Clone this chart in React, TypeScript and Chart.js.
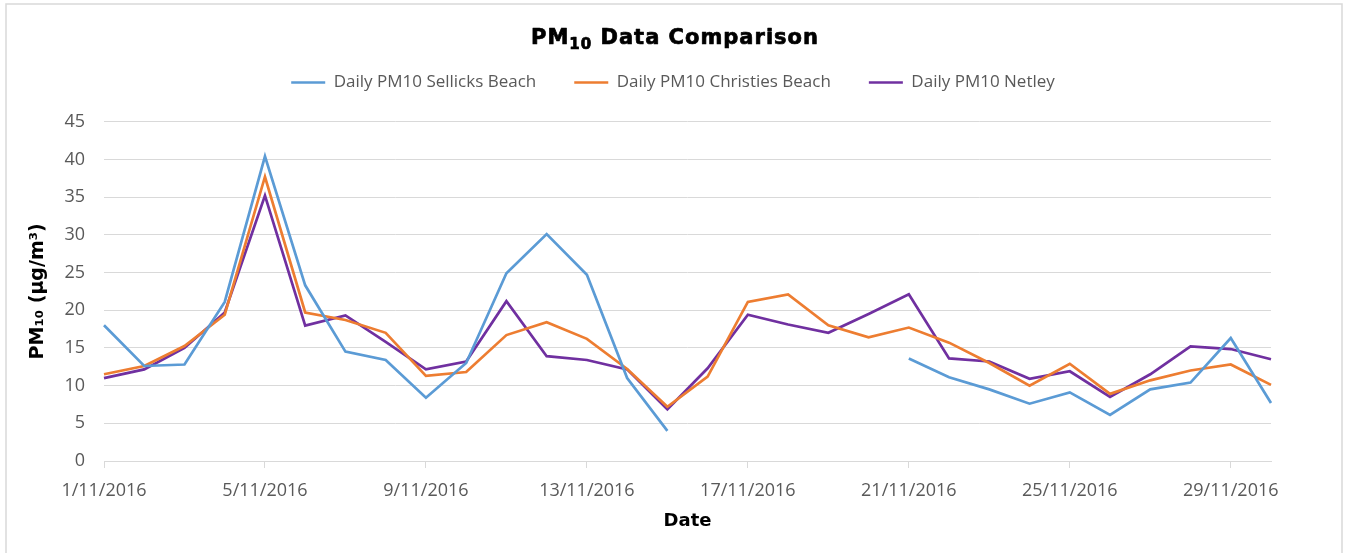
import { useEffect, useRef } from 'react';
import { Chart, registerables } from 'chart.js';

Chart.register(...registerables);

const dates = [
  '1/11/2016', '2/11/2016', '3/11/2016', '4/11/2016', '5/11/2016', '6/11/2016',
  '7/11/2016', '8/11/2016', '9/11/2016', '10/11/2016', '11/11/2016', '12/11/2016',
  '13/11/2016', '14/11/2016', '15/11/2016', '16/11/2016', '17/11/2016', '18/11/2016',
  '19/11/2016', '20/11/2016', '21/11/2016', '22/11/2016', '23/11/2016', '24/11/2016',
  '25/11/2016', '26/11/2016', '27/11/2016', '28/11/2016', '29/11/2016', '30/11/2016',
];

const sellicks: (number | null)[] = [
  18.0, 12.6, 12.8, 21.1, 40.4, 23.3, 14.5, 13.4, 8.4, 13.0,
  24.9, 30.1, 24.7, 11.0, 4.0, null, null, null, null, null,
  13.6, 11.1, 9.5, 7.6, 9.1, 6.1, 9.5, 10.4, 16.3, 7.7,
];

const christies = [
  11.5, 12.6, 15.25, 19.4, 37.7, 19.7, 18.7, 17.0, 11.3, 11.8,
  16.7, 18.4, 16.2, 12.2, 7.2, 11.2, 21.1, 22.1, 18.0, 16.4,
  17.7, 15.7, 13.0, 10.0, 12.9, 8.9, 10.7, 12.0, 12.8, 10.1,
];

const netley = [
  11.0, 12.15, 15.0, 19.7, 35.2, 17.95, 19.3, 15.8, 12.15, 13.2,
  21.2, 13.9, 13.4, 12.15, 6.85, 12.3, 19.4, 18.1, 17.0, 19.5,
  22.1, 13.6, 13.2, 10.9, 11.9, 8.5, 11.5, 15.2, 14.85, 13.5,
];

const seriesNames = ['Daily PM10 Sellicks Beach', 'Daily PM10 Christies Beach', 'Daily PM10 Netley'];
const seriesColors = ['#5B9BD5', '#ED7D31', '#7030A0'];
const labelStep = 4;

const decorPlugin = {
  id: 'decor',
  afterDraw(chart: any) {
    const ctx = chart.ctx as CanvasRenderingContext2D;
    ctx.save();
    // outer frame
    ctx.strokeStyle = '#d9d9d9';
    ctx.lineWidth = 1.5;
    ctx.strokeRect(6, 4, 1336, 600);
    // title with subscript
    (ctx as any).letterSpacing = '1px';
    const big = 'bold 21px "DejaVu Sans"';
    const small = 'bold 15px "DejaVu Sans"';
    ctx.font = big;
    const w1 = ctx.measureText('PM').width;
    const w3 = ctx.measureText(' Data Comparison').width;
    ctx.font = small;
    const w2 = ctx.measureText('10').width;
    let x = 675 - (w1 + w2 + w3) / 2;
    const y = 43.5;
    ctx.fillStyle = '#000000';
    ctx.strokeStyle = '#000000';
    ctx.lineWidth = 0.7;
    ctx.lineJoin = 'round';
    ctx.textAlign = 'left';
    ctx.textBaseline = 'alphabetic';
    const put = (t: string, f: string, px: number, py: number) => {
      ctx.font = f;
      ctx.fillText(t, px, py);
      ctx.strokeText(t, px, py);
    };
    put('PM', big, x, y);
    x += w1;
    put('10', small, x, y + 5);
    x += w2;
    put(' Data Comparison', big, x, y);
    ctx.restore();
  },
};

export default function App() {
  const ref = useRef<HTMLCanvasElement | null>(null);

  useEffect(() => {
    document.body.style.margin = '0';
    if (!ref.current) return;
    const chart = new Chart(ref.current, {
      type: 'line',
      data: {
        labels: dates,
        datasets: [
          { label: seriesNames[0], data: sellicks, borderColor: seriesColors[0], backgroundColor: seriesColors[0] },
          { label: seriesNames[1], data: christies, borderColor: seriesColors[1], backgroundColor: seriesColors[1] },
          { label: seriesNames[2], data: netley, borderColor: seriesColors[2], backgroundColor: seriesColors[2] },
        ].map((d) => ({
          ...d,
          borderWidth: 2.7,
          pointRadius: 0,
          pointHoverRadius: 0,
          tension: 0,
          spanGaps: false,
          fill: false,
        })),
      },
      options: {
        responsive: false,
        animation: false,
        layout: { padding: 0 },
        plugins: {
          title: {
            display: true,
            text: ' ',
            color: 'rgba(0,0,0,0)',
            font: { size: 20 },
            padding: { top: 6, bottom: 6 },
          },
          legend: {
            display: true,
            position: 'top',
            labels: {
              usePointStyle: true,
              pointStyle: 'line',
              pointStyleWidth: 34,
              padding: 38,
              color: '#595959',
              font: { family: '"Open Sans"', size: 17 },
            },
          },
          tooltip: { enabled: false },
        },
        scales: {
          x: {
            type: 'category',
            offset: false,
            grid: {
              drawOnChartArea: false,
              drawTicks: true,
              tickLength: 7,
              tickColor: (c: any) => (c.index % labelStep === 0 ? '#d9d9d9' : 'rgba(0,0,0,0)'),
            },
            border: { display: true, color: '#d9d9d9', width: 1 },
            ticks: {
              autoSkip: false,
              maxRotation: 0,
              minRotation: 0,
              padding: 12,
              color: '#595959',
              font: { family: '"Open Sans"', size: 18 },
              callback: (_v: any, i: number) => (i % labelStep === 0 ? dates[i] : ''),
            },
            title: {
              display: true,
              text: 'Date',
              color: '#000000',
              font: { family: '"DejaVu Sans"', size: 18, weight: 'bold' },
              padding: { top: 0, bottom: 21 },
            },
            afterFit: (s: any) => { s.height = 92; },
          },
          xTop: {
            type: 'category',
            position: 'top',
            display: true,
            grid: { display: false },
            border: { display: false },
            ticks: { display: false },
            afterFit: (s: any) => { s.height = 20.7; },
          },
          y: {
            type: 'linear',
            position: 'left',
            min: 0,
            max: 45,
            grid: { color: '#d9d9d9', lineWidth: 1, drawTicks: false },
            border: { display: false },
            ticks: {
              stepSize: 5,
              padding: 19,
              color: '#595959',
              font: { family: '"Open Sans"', size: 18 },
            },
            title: {
              display: true,
              text: 'PM₁₀ (µg/m³)',
              color: '#000000',
              font: { family: '"DejaVu Sans"', size: 19, weight: 'bold' },
              padding: { top: 26.6, bottom: 0 },
            },
            afterFit: (s: any) => { s.width = 104; },
          },
          y2: {
            type: 'linear',
            position: 'right',
            display: true,
            grid: { display: false },
            border: { display: false },
            ticks: { display: false },
            afterFit: (s: any) => { s.width = 75; },
          },
        },
      },
      plugins: [decorPlugin],
    } as any);
    return () => chart.destroy();
  }, []);

  return (
    <div style={{ width: 1346, height: 553, position: 'relative' }}>
      <canvas ref={ref} width={1346} height={553} style={{ display: 'block', width: 1346, height: 553 }} />
    </div>
  );
}
